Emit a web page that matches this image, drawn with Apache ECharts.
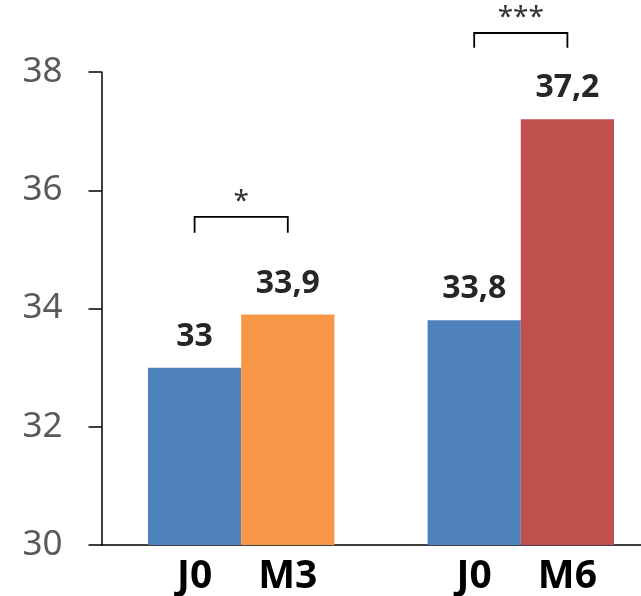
<!DOCTYPE html>
<html><head><meta charset="utf-8">
<script src="https://cdn.jsdelivr.net/npm/echarts@6/dist/echarts.min.js"></script>
<style>html,body{margin:0;padding:0;background:#fff}#c{width:641px;height:596px}</style>
</head><body><div id="c"></div>
<script>
var barLabels = ['J0', 'M3', '', 'J0', 'M6'];
var baselineValues = [33, 33.8];     // J0 of each group
var followValues = [33.9, 37.2];     // M3, M6
var yTicks = [30, 32, 34, 36, 38];
// brackets: [left bar index, right bar index, top value, leg end value]
var brackets = [[0, 1, 35.55, 35.28], [3, 4, 38.66, 38.41]];
var stars = ['*', '***'];

var colBlue = '#4F81BD', colOrange = '#F79646', colRed = '#C0504D';
var font = '"Noto Sans", "Open Sans", sans-serif';
var fmt = function (p) { return String(p.value).replace('.', ','); };

var barData = [
  { value: baselineValues[0], itemStyle: { color: colBlue } },
  { value: followValues[0], itemStyle: { color: colOrange } },
  '-',
  { value: baselineValues[1], itemStyle: { color: colBlue } },
  { value: followValues[1], itemStyle: { color: colRed } }
];

var chart = echarts.init(document.getElementById('c'));
chart.setOption({
  animation: false,
  grid: [
    { left: 101.5, top: 72, bottom: 51, right: 0 },
    { left: 148, top: 72, bottom: 51, width: 466 }
  ],
  xAxis: [
    { type: 'category', gridIndex: 0, data: [''], axisLabel: { show: false }, axisTick: { show: false },
      axisLine: { lineStyle: { color: '#000', width: 1.5 } } },
    { type: 'category', gridIndex: 1, data: barLabels, axisLine: { show: false }, axisTick: { show: false },
      axisLabel: { margin: 12, fontFamily: font, fontWeight: 'bold', fontSize: 39, color: '#000', interval: 0 } }
  ],
  yAxis: [
    { type: 'value', gridIndex: 0, min: yTicks[0], max: yTicks[yTicks.length - 1], interval: 2,
      splitLine: { show: false },
      axisLine: { show: true, lineStyle: { color: '#000', width: 1.5 } },
      axisTick: { show: true, length: 13, lineStyle: { color: '#000', width: 1.5 } },
      axisLabel: { margin: 39, fontFamily: font, fontSize: 35, color: '#595959' } },
    { type: 'value', gridIndex: 1, min: yTicks[0], max: yTicks[yTicks.length - 1], interval: 2, show: false }
  ],
  series: [
    { type: 'bar', xAxisIndex: 1, yAxisIndex: 1, data: barData, barWidth: '100%', barCategoryGap: '0%',
      label: { show: true, position: 'top', distance: 15, fontFamily: font, fontWeight: 'bold', fontSize: 32,
        color: '#262626', formatter: fmt } },
    { type: 'custom', xAxisIndex: 1, yAxisIndex: 1, clip: false, data: brackets,
      renderItem: function (params, api) {
        var a = api.coord([api.value(0), api.value(2)]);
        var b = api.coord([api.value(1), api.value(2)]);
        var legY = api.coord([api.value(0), api.value(3)])[1];
        return {
          type: 'group',
          children: [
            { type: 'polyline', shape: { points: [[a[0], legY], a, b, [b[0], legY]] },
              style: { stroke: '#000', lineWidth: 1.8, fill: null } },
            { type: 'text', style: { text: stars[params.dataIndex], x: (a[0] + b[0]) / 2, y: a[1] - 1,
              textAlign: 'center', textVerticalAlign: 'bottom', fontFamily: font, fontSize: 28, fill: '#333' } }
          ]
        };
      }
    }
  ]
});
</script></body></html>
